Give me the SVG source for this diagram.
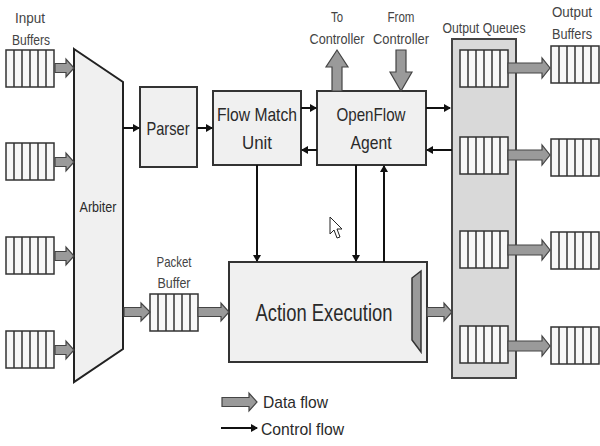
<svg xmlns="http://www.w3.org/2000/svg" width="600" height="446" viewBox="0 0 600 446">
<style>
text{font-family:"Liberation Sans",Arial,sans-serif;fill:#2a2a2a;text-anchor:middle}
.lbl{font-size:15px;fill:#444}
.big{font-size:19px}
.box{fill:#f0f0f0;stroke:#333;stroke-width:2}
.q{fill:#f7f7f7;stroke:#333;stroke-width:1.5}
.cell{stroke:#333;stroke-width:1.5}
.data{fill:#9a9a9a;stroke:#444;stroke-width:1.2;stroke-linejoin:miter}
.ctl{stroke:#111;stroke-width:2;fill:none;marker-end:url(#ah)}
</style>
<defs>
<marker id="ah" markerWidth="8" markerHeight="8" refX="6" refY="4" orient="auto" markerUnits="userSpaceOnUse">
<path d="M0,0 L7,4 L0,8 z" fill="#111"/>
</marker>
<g id="buf">
<rect class="q" x="0" y="0" width="48" height="37"/>
<path class="cell" d="M8,0V37M16,0V37M24,0V37M32,0V37M40,0V37"/>
</g>
<polygon id="ain" class="data" points="0,-4.5 11,-4.5 11,-9 19,0 11,9 11,4.5 0,4.5"/>
<polygon id="aout" class="data" points="0,-5 34,-5 34,-10 42,0 34,10 34,5 0,5"/>
</defs>

<g id="input-buffers">
<text class="lbl" x="30" y="23" textLength="30" lengthAdjust="spacingAndGlyphs">Input</text>
<text class="lbl" x="31" y="45" textLength="38" lengthAdjust="spacingAndGlyphs">Buffers</text>
<use href="#buf" x="6" y="50"/>
<use href="#buf" x="6" y="143"/>
<use href="#buf" x="6" y="237"/>
<use href="#buf" x="6" y="331"/>
</g>

<g id="arbiter">
<polygon points="74,49 123,82 123,349 74,382" fill="#f0f0f0" stroke="#222" stroke-width="2"/>
<text x="98" y="212" font-size="15" textLength="37" lengthAdjust="spacingAndGlyphs">Arbiter</text>
</g>

<g id="parser">
<rect class="box" x="140" y="87" width="57" height="80"/>
<text class="big" x="168" y="135" textLength="43" lengthAdjust="spacingAndGlyphs">Parser</text>
</g>

<g id="flow-match-unit">
<rect class="box" x="213" y="91" width="88" height="74"/>
<text class="big" x="257" y="121" textLength="80" lengthAdjust="spacingAndGlyphs">Flow Match</text>
<text class="big" x="257" y="149" textLength="30" lengthAdjust="spacingAndGlyphs">Unit</text>
</g>

<g id="openflow-agent">
<rect class="box" x="317" y="91" width="109" height="74"/>
<text class="big" x="371" y="121" textLength="69" lengthAdjust="spacingAndGlyphs">OpenFlow</text>
<text class="big" x="371" y="149" textLength="41" lengthAdjust="spacingAndGlyphs">Agent</text>
</g>

<g id="to-controller">
<text class="lbl" x="337" y="22" textLength="12" lengthAdjust="spacingAndGlyphs">To</text>
<text class="lbl" x="337" y="44" textLength="55" lengthAdjust="spacingAndGlyphs">Controller</text>
</g>
<g id="from-controller">
<text class="lbl" x="401" y="22" textLength="27" lengthAdjust="spacingAndGlyphs">From</text>
<text class="lbl" x="401" y="44" textLength="56" lengthAdjust="spacingAndGlyphs">Controller</text>
</g>

<g id="packet-buffer">
<text class="lbl" x="174" y="267" textLength="35" lengthAdjust="spacingAndGlyphs">Packet</text>
<text class="lbl" x="174" y="288" textLength="33" lengthAdjust="spacingAndGlyphs">Buffer</text>
<use href="#buf" x="150" y="294"/>
</g>

<g id="action-execution">
<rect class="box" x="229" y="262" width="198" height="100"/>
<text x="324" y="321" font-size="23" textLength="137" lengthAdjust="spacingAndGlyphs">Action Execution</text>
<polygon points="412,278 421,271 421,352 412,340" fill="#9a9a9a" stroke="#333" stroke-width="1.5"/>
</g>

<g id="output-queues">
<text class="lbl" x="484" y="33" textLength="83" lengthAdjust="spacingAndGlyphs">Output Queues</text>
<rect x="452" y="39" width="64" height="339" fill="#d9d9d9" stroke="#444" stroke-width="2"/>
<use href="#buf" x="460" y="50"/>
<use href="#buf" x="460" y="137"/>
<use href="#buf" x="460" y="231"/>
<use href="#buf" x="460" y="326"/>
</g>

<g id="output-buffers">
<text class="lbl" x="572" y="17" textLength="40" lengthAdjust="spacingAndGlyphs">Output</text>
<text class="lbl" x="572" y="39" textLength="40" lengthAdjust="spacingAndGlyphs">Buffers</text>
<use href="#buf" x="551" y="46"/>
<use href="#buf" x="551" y="139"/>
<use href="#buf" x="551" y="232"/>
<use href="#buf" x="551" y="327"/>
</g>

<g id="connectors">
<use href="#ain" x="55" y="68"/>
<use href="#ain" x="55" y="162"/>
<use href="#ain" x="55" y="256"/>
<use href="#ain" x="55" y="350"/>
<polygon class="data" points="124,307.5 141,307.5 141,303 150,312 141,321 141,316.5 124,316.5"/>
<polygon class="data" points="198,307.5 221,307.5 221,303 229,312 221,321 221,316.5 198,316.5"/>
<polygon class="data" points="427,307.5 444,307.5 444,303 452,312 444,321 444,316.5 427,316.5"/>
<use href="#aout" x="508" y="68"/>
<use href="#aout" x="508" y="155"/>
<use href="#aout" x="508" y="250"/>
<use href="#aout" x="508" y="346"/>
<polygon class="data" points="332,91 332,67 326,67 337,50 348,67 342,67 342,91"/>
<polygon class="data" points="396,50 406,50 406,72 412,72 401,91 390,72 396,72"/>
<path class="ctl" d="M123,128H139"/>
<path class="ctl" d="M197,128H212"/>
<path class="ctl" d="M301,108H316"/>
<path class="ctl" d="M317,150H302"/>
<path class="ctl" d="M426,108H450"/>
<path class="ctl" d="M452,150H427"/>
<path class="ctl" d="M257,165V261"/>
<path class="ctl" d="M356,165V261"/>
<path class="ctl" d="M384,262V166"/>
</g>

<g id="legend">
<polygon class="data" points="222,397.5 249,397.5 249,393 257,402 249,411 249,406.5 222,406.5"/>
<text x="263" y="408" font-size="17" style="text-anchor:start" textLength="65" lengthAdjust="spacingAndGlyphs">Data flow</text>
<path class="ctl" d="M221,428H257"/>
<text x="261" y="435" font-size="17" style="text-anchor:start" textLength="83" lengthAdjust="spacingAndGlyphs">Control flow</text>
</g>

<g id="cursor">
<path d="M330,217 L330,234 L334,230 L337,238 L340,237 L337,229 L342,229 Z" fill="#fff" stroke="#222" stroke-width="1"/>
</g>
</svg>
